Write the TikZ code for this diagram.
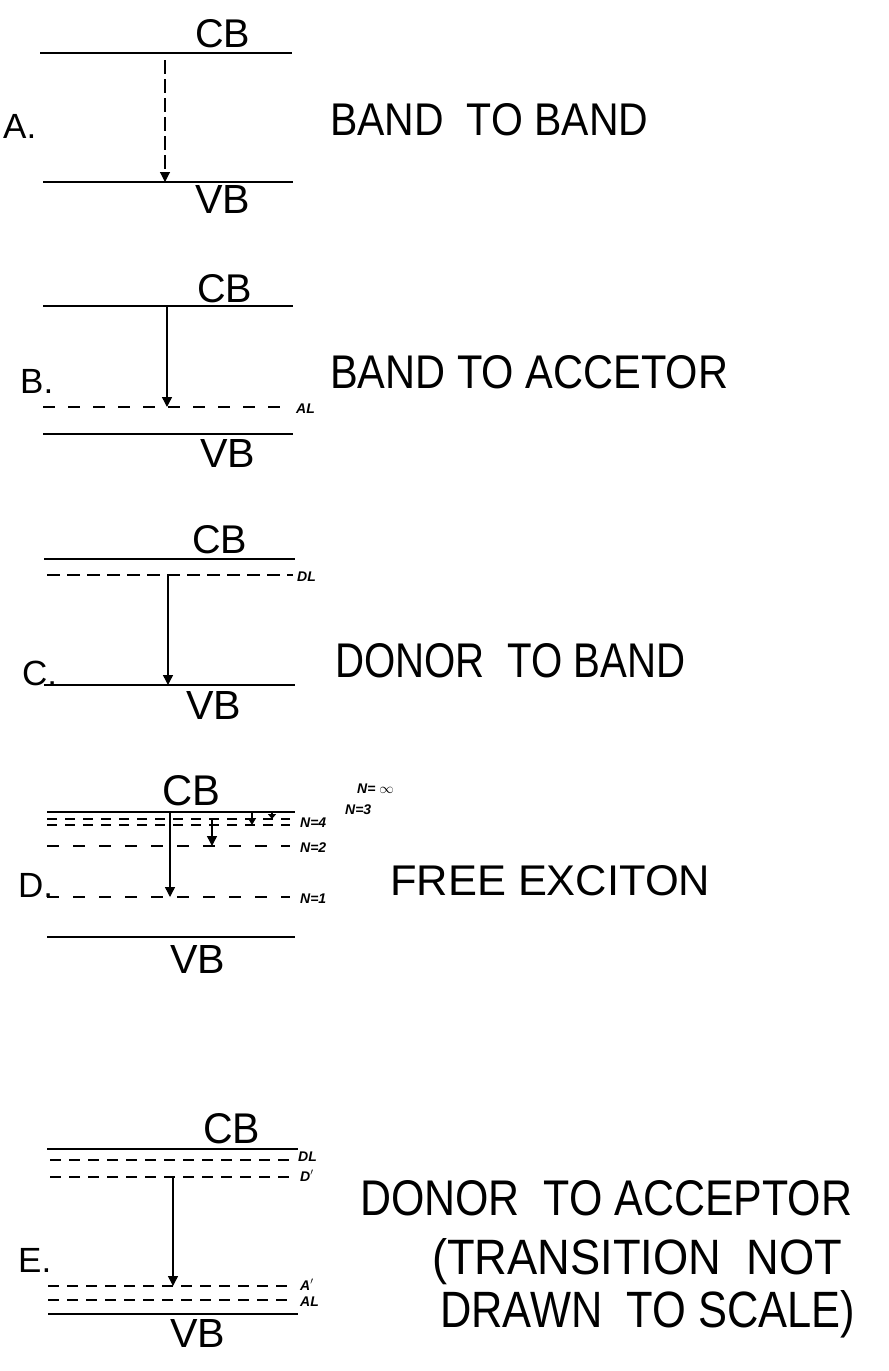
\documentclass[tikz,border=0pt]{standalone}
\usepackage{fontspec}
\setmainfont{Liberation Sans}
\usetikzlibrary{arrows.meta}
% band names and captions are set to a fixed width and cap height
\newcommand{\bandlbl}[1]{\resizebox{55pt}{28pt}{#1}}
\newcommand{\fitline}[3]{\resizebox{#1}{#2}{#3}}
\begin{document}
\begin{tikzpicture}[x=1pt,y=-1pt,
  band/.style={line width=2.6pt},
  lvline/.style={line width=2.2pt, dash pattern=on 11pt off 8pt},
  trans/.style={line width=1.4pt, -{Triangle[length=10pt,width=10pt]}},
  headline/.style={anchor=base west, inner sep=0pt, font=\fontsize{42}{46}\selectfont},
  bandname/.style={anchor=base west, inner sep=0pt, font=\fontsize{37}{40}\selectfont},
  paneltag/.style={anchor=base west, inner sep=0pt, font=\fontsize{35}{40}\selectfont},
  lvlname/.style={anchor=base west, inner sep=0pt, font=\fontsize{14}{15}\selectfont\bfseries\itshape},
]
\useasboundingbox (0,0) rectangle (889,1371);

% ---------- A: band to band ----------
\draw[band] (40,53) -- (292,53);
\draw[band] (43,182) -- (293,182);
\node[bandname] (aCB) at (195,47) {\bandlbl{CB}};
\node[bandname] (aVB) at (195,213) {\bandlbl{VB}};
\node[paneltag] (aTag) at (3,138) {A.};
\coordinate (aTop) at (165,60);
\coordinate (aBot) at (165,182);
\draw[trans, line width=1.1pt, dash pattern=on 14pt off 5pt] (aTop) -- (aBot);
\node[headline] (aText) at (330,135) {\fitline{318pt}{32pt}{BAND\ \ TO BAND}};

% ---------- B: band to acceptor ----------
\draw[band] (43,306) -- (293,306);
\draw[lvline, dash pattern=on 12pt off 13pt] (43,407) -- (288,407);
\draw[band] (43,434) -- (293,434);
\node[bandname] (bCB) at (197,302) {\bandlbl{CB}};
\node[bandname] (bVB) at (200,467) {\bandlbl{VB}};
\node[lvlname] (bAL) at (296,413) {AL};
\node[paneltag] (bTag) at (20,393) {B.};
\coordinate (bTop) at (167,306);
\coordinate (bBot) at (167,407);
\draw[trans] (bTop) -- (bBot);
\node[headline] (bText) at (330,388) {\fitline{398pt}{33pt}{BAND TO ACCETOR}};

% ---------- C: donor to band ----------
\draw[band] (44,559) -- (295,559);
\draw[lvline, dash pattern=on 13pt off 7pt] (47,575) -- (293,575);
\draw[band] (44,685) -- (295,685);
\node[bandname] (cCB) at (192,553) {\bandlbl{CB}};
\node[bandname] (cVB) at (186,719) {\bandlbl{VB}};
\node[lvlname] (cDL) at (297,581) {DL};
\node[paneltag] (cTag) at (22,685) {C.};
\coordinate (cTop) at (168,575);
\coordinate (cBot) at (168,685);
\draw[trans] (cTop) -- (cBot);
\node[headline] (cText) at (335,677) {\fitline{350pt}{34pt}{DONOR\ \ TO BAND}};

% ---------- D: free exciton ----------
\draw[band] (47,812) -- (295,812);
\draw[lvline, line width=1.8pt, dash pattern=on 10pt off 8pt] (47,819) -- (290,819);
\draw[lvline, line width=1.8pt, dash pattern=on 10pt off 8pt] (47,825) -- (290,825);
\draw[lvline, dash pattern=on 12pt off 14pt] (47,846) -- (290,846);
\draw[lvline, dash pattern=on 12pt off 14pt] (47,897) -- (290,897);
\draw[band] (47,937) -- (295,937);
\node[bandname] (dCB) at (162,805) {\resizebox{58pt}{30pt}{CB}};
\node[bandname] (dVB) at (170,973) {\bandlbl{VB}};
\node[paneltag] (dTag) at (18,897) {D.};
\node[lvlname] (dN4) at (300,827) {N=4};
\node[lvlname] (dNinf) at (357,793) {N= $\infty$};
\node[lvlname] (dN3) at (345,814) {N=3};
\node[lvlname] (dN2) at (300,852) {N=2};
\node[lvlname] (dN1) at (300,903) {N=1};
\coordinate (d1Top) at (170,812);
\coordinate (d1Bot) at (170,897);
\coordinate (d2Top) at (212,819);
\coordinate (d2Bot) at (212,846);
\coordinate (d3Top) at (252,812);
\coordinate (d3Bot) at (252,825);
\coordinate (d4Top) at (272,812);
\coordinate (d4Bot) at (272,819);
\draw[trans] (d1Top) -- (d1Bot);
\draw[trans] (d2Top) -- (d2Bot);
\draw[trans, -{Triangle[length=7pt,width=8pt]}] (d3Top) -- (d3Bot);
\draw[trans, -{Triangle[length=5pt,width=8pt]}] (d4Top) -- (d4Bot);
\node[headline] (dText) at (390,895) {\fitline{320pt}{30pt}{FREE EXCITON}};

% ---------- E: donor to acceptor ----------
\draw[band] (47,1149) -- (298,1149);
\draw[lvline] (50,1160) -- (290,1160);
\draw[lvline] (50,1177) -- (290,1177);
\draw[lvline] (48,1286) -- (295,1286);
\draw[lvline] (48,1300) -- (295,1300);
\draw[band] (48,1314) -- (298,1314);
\node[bandname] (eCB) at (203,1143) {\resizebox{57pt}{30pt}{CB}};
\node[bandname] (eVB) at (170,1347) {\bandlbl{VB}};
\node[paneltag] (eTag) at (18,1272) {E.};
\node[lvlname] (eDL) at (298,1161) {DL};
\node[lvlname] (eDp) at (300,1181) {D$'$};
\node[lvlname] (eAp) at (300,1290) {A$'$};
\node[lvlname] (eAL) at (300,1306) {AL};
\coordinate (eTop) at (173,1177);
\coordinate (eBot) at (173,1286);
\draw[trans] (eTop) -- (eBot);
\node[headline] (eText1) at (360,1215) {\fitline{492pt}{35pt}{DONOR\ \ TO ACCEPTOR}};
\node[headline] (eText2) at (432,1274) {\fitline{410pt}{36pt}{(TRANSITION\ \ NOT}};
\node[headline] (eText3) at (440,1327) {\fitline{415pt}{37pt}{DRAWN\ \ TO SCALE)}};
\end{tikzpicture}
\end{document}
